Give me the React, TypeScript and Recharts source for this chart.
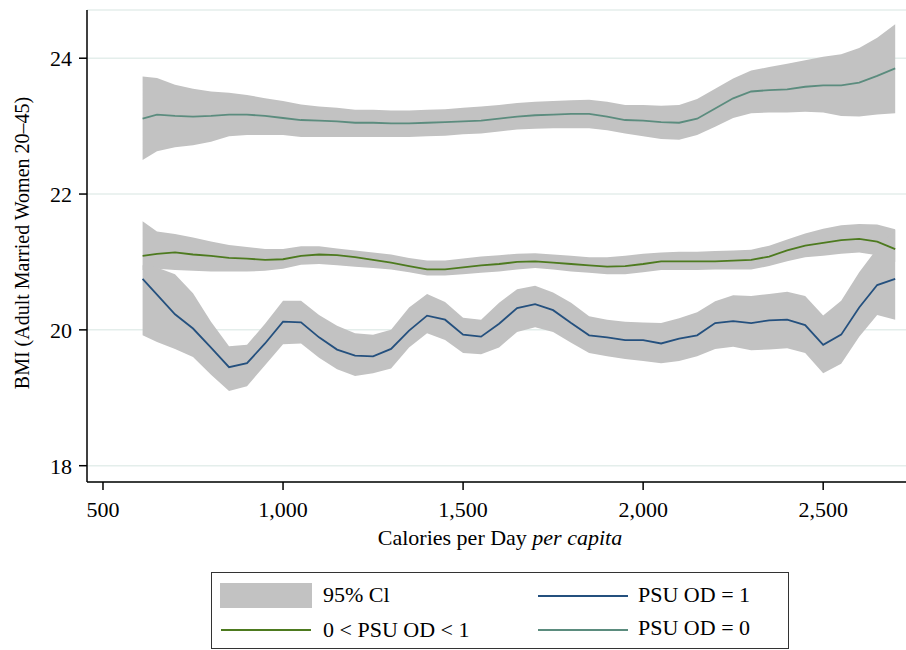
import React from 'react';
import { ComposedChart, Area, Line, XAxis, YAxis, CartesianGrid, Legend, Label } from 'recharts';

// calories per day per capita (x positions of the smoothed estimates)
const calories = [
  610, 650, 700, 750, 800, 850, 900, 950, 1000, 1050,
  1100, 1150, 1200, 1250, 1300, 1350, 1400, 1450, 1500, 1550,
  1600, 1650, 1700, 1750, 1800, 1850, 1900, 1950, 2000, 2050,
  2100, 2150, 2200, 2250, 2300, 2350, 2400, 2450, 2500, 2550,
  2600, 2650, 2700,
];

// PSU OD = 0
const od0Mean = [
  23.11, 23.17, 23.15, 23.14, 23.15, 23.17, 23.17, 23.15, 23.12, 23.09,
  23.08, 23.07, 23.05, 23.05, 23.04, 23.04, 23.05, 23.06, 23.07, 23.08,
  23.11, 23.14, 23.16, 23.17, 23.18, 23.18, 23.14, 23.09, 23.08, 23.06,
  23.05, 23.11, 23.26, 23.41, 23.51, 23.53, 23.54, 23.58, 23.6, 23.6,
  23.64, 23.74, 23.85,
];
const od0Hi = [
  23.73, 23.71, 23.61, 23.55, 23.51, 23.49, 23.46, 23.41, 23.37, 23.32,
  23.29, 23.27, 23.24, 23.24, 23.23, 23.23, 23.24, 23.25, 23.27, 23.29,
  23.31, 23.34, 23.36, 23.37, 23.38, 23.39, 23.36, 23.31, 23.31, 23.3,
  23.31, 23.4, 23.55, 23.7, 23.82, 23.87, 23.92, 23.97, 24.02, 24.06,
  24.15, 24.3, 24.5,
];
const od0Lo = [
  22.5, 22.63, 22.69, 22.72, 22.77, 22.85, 22.87, 22.87, 22.87, 22.84,
  22.84, 22.84, 22.84, 22.84, 22.84, 22.84, 22.85, 22.86, 22.88, 22.89,
  22.92, 22.95, 22.96, 22.97, 22.97, 22.97, 22.94, 22.89, 22.85, 22.81,
  22.8, 22.87, 22.99, 23.12, 23.19, 23.2, 23.2, 23.21, 23.2, 23.15,
  23.14, 23.17, 23.19,
];

// 0 < PSU OD < 1
const odMidMean = [
  21.09, 21.12, 21.14, 21.11, 21.09, 21.06, 21.05, 21.03, 21.04, 21.09,
  21.11, 21.1, 21.07, 21.03, 20.99, 20.94, 20.89, 20.89, 20.92, 20.95,
  20.97, 21.0, 21.01, 20.99, 20.97, 20.95, 20.93, 20.94, 20.97, 21.01,
  21.01, 21.01, 21.01, 21.02, 21.03, 21.08, 21.17, 21.24, 21.28, 21.32,
  21.34, 21.3, 21.19,
];
const odMidHi = [
  21.6, 21.45, 21.41, 21.36, 21.3, 21.25, 21.22, 21.19, 21.19, 21.23,
  21.23, 21.2, 21.17, 21.14, 21.11, 21.06, 21.02, 21.02, 21.05, 21.08,
  21.1, 21.12, 21.13, 21.11, 21.09, 21.07, 21.07, 21.09, 21.12, 21.14,
  21.15, 21.15, 21.16, 21.17, 21.18, 21.24, 21.33, 21.42, 21.49, 21.54,
  21.56, 21.55, 21.48,
];
const odMidLo = [
  20.88, 20.9, 20.88, 20.87, 20.86, 20.86, 20.86, 20.87, 20.9, 20.96,
  20.97, 20.95, 20.93, 20.91, 20.89, 20.85, 20.8, 20.8, 20.82, 20.84,
  20.86, 20.89, 20.91, 20.89, 20.86, 20.84, 20.82, 20.82, 20.85, 20.88,
  20.88, 20.88, 20.89, 20.89, 20.89, 20.94, 21.01, 21.07, 21.09, 21.12,
  21.14, 21.1, 21.0,
];

// PSU OD = 1
const od1Mean = [
  20.75, 20.52, 20.23, 20.02, 19.74, 19.45, 19.51, 19.8, 20.12, 20.11,
  19.89, 19.71, 19.62, 19.61, 19.72, 19.99, 20.21, 20.15, 19.93, 19.9,
  20.09, 20.32, 20.38, 20.29, 20.1, 19.92, 19.89, 19.85, 19.85, 19.8,
  19.87, 19.92, 20.1, 20.13, 20.1, 20.14, 20.15, 20.07, 19.78, 19.93,
  20.33, 20.66, 20.75,
];
const od1Hi = [
  20.95, 20.92, 20.82, 20.54, 20.12, 19.76, 19.78, 20.09, 20.43, 20.43,
  20.22, 20.06, 19.95, 19.93, 20.0, 20.33, 20.53, 20.41, 20.18, 20.15,
  20.4, 20.6, 20.65, 20.55, 20.4, 20.2, 20.15, 20.12, 20.11, 20.1,
  20.17, 20.26, 20.42, 20.51, 20.5, 20.53, 20.56, 20.5, 20.21, 20.43,
  20.85, 21.2, 21.47,
];
const od1Lo = [
  19.92, 19.82, 19.72, 19.6, 19.34, 19.1, 19.17, 19.48, 19.79, 19.8,
  19.59, 19.42, 19.32, 19.36, 19.43, 19.74, 19.95, 19.85, 19.66, 19.64,
  19.74, 19.97, 20.04, 19.97, 19.81, 19.66, 19.61, 19.57, 19.54, 19.51,
  19.54, 19.61, 19.72, 19.75, 19.7, 19.71, 19.73, 19.66, 19.36, 19.5,
  19.9, 20.22, 20.15,
];

const xTicks = [500, 1000, 1500, 2000, 2500];
const yTicks = [18, 20, 22, 24];

const SERIF = '"Liberation Serif", "DejaVu Serif", serif';
const BAND = '#c2c2c2';
const C_OD0 = '#5b8c7e';
const C_MID = '#4d7a1f';
const C_OD1 = '#24507e';

const data = calories.map((cal, i) => ({
  cal,
  od0: od0Mean[i],
  od0Band: [od0Lo[i], od0Hi[i]],
  mid: odMidMean[i],
  midBand: [odMidLo[i], odMidHi[i]],
  od1: od1Mean[i],
  od1Band: [od1Lo[i], od1Hi[i]],
}));

const legendLine = (color: string) => ({
  position: 'absolute' as const,
  height: 2,
  width: 90,
  background: color,
});
const legendText = {
  position: 'absolute' as const,
  fontFamily: SERIF,
  fontSize: 22,
  lineHeight: '24px',
  color: '#000',
  whiteSpace: 'nowrap' as const,
};

const LegendBox = () => (
  <div
    style={{
      position: 'relative',
      width: 578,
      height: 77,
      boxSizing: 'border-box',
      border: '1.5px solid #333',
      background: '#fff',
    }}
  >
    <div style={{ position: 'absolute', left: 8, top: 10, width: 92, height: 25, background: BAND }} />
    <div style={{ ...legendText, left: 111, top: 10 }}>95% Cl</div>
    <div style={{ ...legendLine(C_MID), left: 9, top: 56 }} />
    <div style={{ ...legendText, left: 111, top: 45 }}>0 &lt; PSU OD &lt; 1</div>
    <div style={{ ...legendLine(C_OD1), left: 326, top: 22 }} />
    <div style={{ ...legendText, left: 426, top: 10 }}>PSU OD = 1</div>
    <div style={{ ...legendLine(C_OD0), left: 326, top: 56 }} />
    <div style={{ ...legendText, left: 426, top: 43 }}>PSU OD = 0</div>
  </div>
);

const XTitle = () => (
  <text x={500} y={545} textAnchor="middle" fontFamily={SERIF} fontSize={22} fill="#000">
    <tspan>Calories per Day </tspan>
    <tspan fontStyle="italic">per capita</tspan>
  </text>
);

const YTitle = () => (
  <text
    x={22}
    y={243}
    transform="rotate(-90 22 243)"
    textAnchor="middle"
    dominantBaseline="central"
    fontFamily={SERIF}
    fontSize={20}
    fill="#000"
  >
    BMI (Adult Married Women 20–45)
  </text>
);

const App: React.FC = () => (
  <div style={{ position: 'absolute', left: 0, top: 0, width: 906, height: 650, background: '#fff' }}>
    <ComposedChart width={906} height={650} data={data} margin={{ top: 10, right: 0, bottom: 0, left: 0 }}>
      <CartesianGrid vertical={false} stroke="#e4eeeb" strokeWidth={1.5} />
      <XAxis
        type="number"
        dataKey="cal"
        domain={[455.6, 2730]}
        ticks={xTicks}
        interval={0}
        allowDataOverflow
        height={168}
        tickSize={8}
        tickMargin={11}
        tickFormatter={(v: number) => v.toLocaleString('en-US')}
        axisLine={{ stroke: '#000', strokeWidth: 1.5 }}
        tickLine={{ stroke: '#000', strokeWidth: 1.5 }}
        tick={{ fill: '#000', fontSize: 22, fontFamily: SERIF }}
      >
        <Label content={<XTitle />} />
      </XAxis>
      <YAxis
        type="number"
        domain={[17.76, 24.71]}
        ticks={yTicks}
        interval={0}
        allowDataOverflow
        width={87}
        tickSize={8}
        tickMargin={7}
        axisLine={{ stroke: '#000', strokeWidth: 1.5 }}
        tickLine={{ stroke: '#000', strokeWidth: 1.5 }}
        tick={{ fill: '#000', fontSize: 22, fontFamily: SERIF }}
      >
        <Label content={<YTitle />} />
      </YAxis>
      <Area type="linear" dataKey="od0Band" stroke="none" fill={BAND} fillOpacity={1} isAnimationActive={false} activeDot={false} legendType="none" />
      <Area type="linear" dataKey="midBand" stroke="none" fill={BAND} fillOpacity={1} isAnimationActive={false} activeDot={false} legendType="none" />
      <Area type="linear" dataKey="od1Band" stroke="none" fill={BAND} fillOpacity={1} isAnimationActive={false} activeDot={false} legendType="none" />
      <Line type="linear" dataKey="od0" name="PSU OD = 0" stroke={C_OD0} strokeWidth={1.8} dot={false} activeDot={false} isAnimationActive={false} />
      <Line type="linear" dataKey="mid" name="0 < PSU OD < 1" stroke={C_MID} strokeWidth={1.8} dot={false} activeDot={false} isAnimationActive={false} />
      <Line type="linear" dataKey="od1" name="PSU OD = 1" stroke={C_OD1} strokeWidth={1.8} dot={false} activeDot={false} isAnimationActive={false} />
      <Legend
        layout="vertical"
        align="center"
        verticalAlign="middle"
        content={<LegendBox />}
        wrapperStyle={{ left: 211, top: 572, width: 578, height: 77 }}
      />
    </ComposedChart>
  </div>
);

export default App;
